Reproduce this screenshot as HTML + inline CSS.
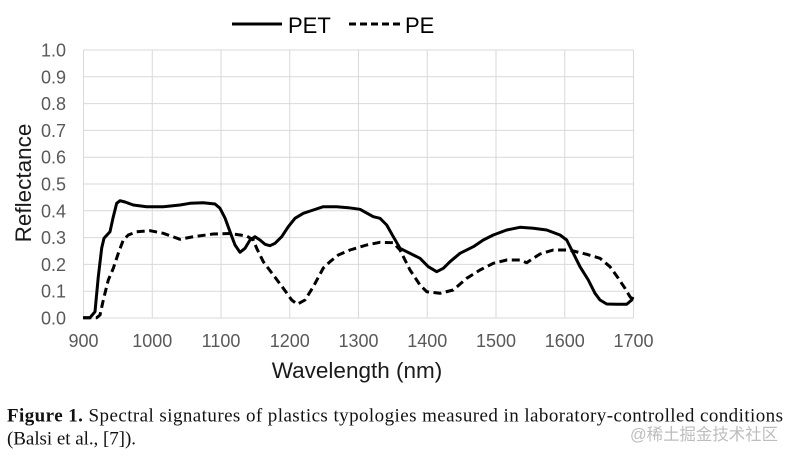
<!DOCTYPE html>
<html>
<head>
<meta charset="utf-8">
<style>
html,body{margin:0;padding:0;background:#fff;}
svg{display:block;}
</style>
</head>
<body>
<svg width="793" height="460" viewBox="0 0 793 460" xmlns="http://www.w3.org/2000/svg">
<rect x="0" y="0" width="793" height="460" fill="#fff"/>
<!-- grid -->
<g stroke="#d9d9d9" stroke-width="1" fill="none">
  <line x1="83.5" y1="50" x2="83.5" y2="318"/>
  <line x1="152.25" y1="50" x2="152.25" y2="318"/>
  <line x1="221" y1="50" x2="221" y2="318"/>
  <line x1="289.75" y1="50" x2="289.75" y2="318"/>
  <line x1="358.5" y1="50" x2="358.5" y2="318"/>
  <line x1="427.25" y1="50" x2="427.25" y2="318"/>
  <line x1="496" y1="50" x2="496" y2="318"/>
  <line x1="564.75" y1="50" x2="564.75" y2="318"/>
  <line x1="633.5" y1="50" x2="633.5" y2="318"/>
  <line x1="83.5" y1="50" x2="633.5" y2="50"/>
  <line x1="83.5" y1="76.8" x2="633.5" y2="76.8"/>
  <line x1="83.5" y1="103.6" x2="633.5" y2="103.6"/>
  <line x1="83.5" y1="130.4" x2="633.5" y2="130.4"/>
  <line x1="83.5" y1="157.2" x2="633.5" y2="157.2"/>
  <line x1="83.5" y1="184" x2="633.5" y2="184"/>
  <line x1="83.5" y1="210.8" x2="633.5" y2="210.8"/>
  <line x1="83.5" y1="237.6" x2="633.5" y2="237.6"/>
  <line x1="83.5" y1="264.4" x2="633.5" y2="264.4"/>
  <line x1="83.5" y1="291.2" x2="633.5" y2="291.2"/>
  <line x1="83.5" y1="318" x2="633.5" y2="318"/>
</g>
<!-- y tick labels -->
<g font-family="Liberation Sans, Arial, sans-serif" font-size="18" fill="#595959" text-anchor="end">
  <text x="66" y="56.5">1.0</text>
  <text x="66" y="83.3">0.9</text>
  <text x="66" y="110.1">0.8</text>
  <text x="66" y="136.9">0.7</text>
  <text x="66" y="163.7">0.6</text>
  <text x="66" y="190.5">0.5</text>
  <text x="66" y="217.3">0.4</text>
  <text x="66" y="244.1">0.3</text>
  <text x="66" y="270.9">0.2</text>
  <text x="66" y="297.7">0.1</text>
  <text x="66" y="324.5">0.0</text>
</g>
<!-- x tick labels -->
<g font-family="Liberation Sans, Arial, sans-serif" font-size="18" fill="#595959" text-anchor="middle">
  <text x="83.5" y="347">900</text>
  <text x="152.25" y="347">1000</text>
  <text x="221" y="347">1100</text>
  <text x="289.75" y="347">1200</text>
  <text x="358.5" y="347">1300</text>
  <text x="427.25" y="347">1400</text>
  <text x="496" y="347">1500</text>
  <text x="564.75" y="347">1600</text>
  <text x="633.5" y="347">1700</text>
</g>
<!-- axis titles -->
<text x="357" y="378" font-family="Liberation Sans, Arial, sans-serif" font-size="22.5" fill="#1a1a1a" text-anchor="middle">Wavelength (nm)</text>
<text transform="translate(31,183) rotate(-90)" font-family="Liberation Sans, Arial, sans-serif" font-size="22.5" fill="#1a1a1a" text-anchor="middle">Reflectance</text>
<!-- legend -->
<line x1="232" y1="24" x2="282" y2="24" stroke="#000" stroke-width="3"/>
<text x="288" y="33" font-family="Liberation Sans, Arial, sans-serif" font-size="22" fill="#000">PET</text>
<line x1="349" y1="24" x2="400" y2="24" stroke="#000" stroke-width="3" stroke-dasharray="7 4"/>
<text x="405" y="33" font-family="Liberation Sans, Arial, sans-serif" font-size="22" fill="#000">PE</text>
<!-- PE curve -->
<polyline fill="none" stroke="#000" stroke-width="3" stroke-linejoin="round" stroke-dasharray="8 4.5" points="83.3,317.7 96.7,317.7 100,315 103.3,300 108.3,280 113.3,268.3 118.3,253.3 123.3,240 128.3,235 136.7,231.7 150,230.7 163.3,233.3 180,239.3 193.3,236.7 213.3,234 230,233.5 246.7,236 253.3,240 256.7,248.3 263.3,261.7 273.3,275 283.3,288.3 291.7,300 297.3,304.3 305,300 313.3,286.7 323.3,268 330,261.7 338.3,255 350,250 366.7,245 380,242.3 393.3,242.7 400,250 410,270 420,285 426.7,291.7 440,293.3 453.3,290 466.7,278.3 480,270 493.3,263.3 506.7,260 520,260 526.7,262.7 533.3,258.3 540,254 553.3,250 566.7,250 573.3,251 586.7,254.3 600,258.3 610,266.7 618.3,278.3 625,288.3 630,296.7 632,299"/>
<!-- PET curve -->
<polyline fill="none" stroke="#000" stroke-width="3" stroke-linejoin="round" points="83,317.7 90,317.7 95,311.7 98.3,276.7 101.7,248 104,238.3 110,231.7 113.3,216.7 116.7,203.3 120,200.7 125,202 133.3,205 146.7,206.7 163.3,206.7 180,205 190,203.3 203.3,202.7 215,204 220,208.3 225,218 230,231.7 235,245 240,252.3 245,248.3 250,240 255,236.7 260,240 265,244.3 270,245.7 275,243.3 281.7,236.7 288.3,226.7 295,218.3 303.3,213.3 313.3,210 323.3,206.7 336.7,206.7 348.3,207.7 360,209.3 373.3,216.7 380,218.3 386.7,225 393.3,236.7 400,248.3 406.7,251.7 420,258.3 428.3,266.7 436.7,271.7 443.3,268.3 450,261.7 460,253.3 473.3,246.7 483.3,240 493.3,235 506.7,230 520,227.3 533.3,228.3 546.7,230 560,235 566.7,240 571.7,250 580,266.7 588.3,280 595,293.3 600,300 606.7,304 616.7,304.3 626.7,304.3 631.7,300 633,297"/>
<!-- caption -->
<text x="7" y="421.7" font-family="Liberation Serif, Times New Roman, serif" font-size="19" fill="#111" textLength="776" lengthAdjust="spacing"><tspan font-weight="bold">Figure 1.</tspan> Spectral signatures of plastics typologies measured in laboratory-controlled conditions</text>
<text x="7" y="444.3" font-family="Liberation Serif, Times New Roman, serif" font-size="19" fill="#111" textLength="129" lengthAdjust="spacing">(Balsi et al., [7]).</text>
<!-- watermark -->
<text x="630" y="440" font-family="Liberation Sans, Noto Sans CJK SC, sans-serif" font-size="16.5" fill="#bdbdbd" textLength="148" lengthAdjust="spacingAndGlyphs">@稀土掘金技术社区</text>
</svg>
</body>
</html>
